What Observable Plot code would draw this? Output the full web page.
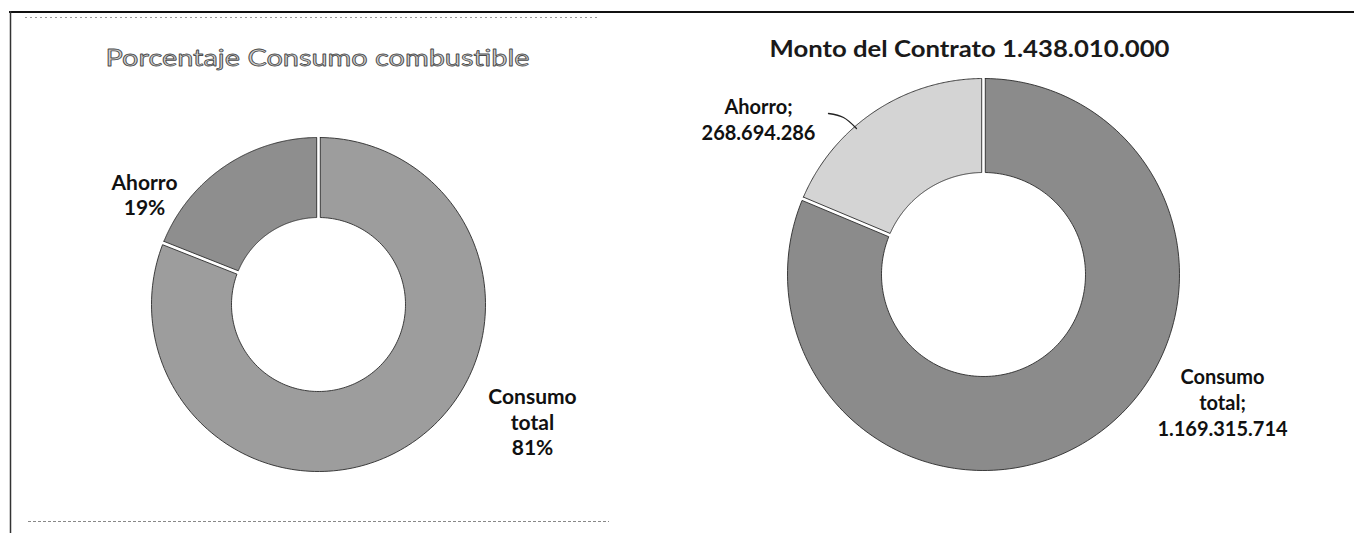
<!DOCTYPE html>
<html><head><meta charset="utf-8">
<script src="https://cdn.jsdelivr.net/npm/d3@7"></script>
<script src="https://cdn.jsdelivr.net/npm/@observablehq/plot@0.6"></script>
<style>body{margin:0;background:#fff;overflow:hidden}</style>
</head><body><div id="chart"></div>
<script>
// ---- data ----
const categories = ["Consumo total", "Ahorro"];
const pctValues = [81, 19];
const amountValues = [1169315714, 268694286];
const leftTitle = "Porcentaje Consumo combustible";
const rightTitlePrefix = "Monto del Contrato";

// ---- formatting ----
const es = d3.formatLocale({decimal: ",", thousands: ".", grouping: [3], currency: ["", ""]});
const fmt = es.format(",d");
const rightTitle = rightTitlePrefix + " " + fmt(d3.sum(amountValues));

// ---- layout ----
const W = 1354, H = 533;
const donuts = [
  {cx: 318, cy: 304, R: 167, r: 87, values: pctValues,
   colors: ["#9d9d9d", "#8e8e8e"],
   text: (c, v) => (c === "Ahorro" ? "Ahorro" : "Consumo\ntotal") + "\n" + v + "%",
   offsets: [[214, 117], [-174, -110]]},
  {cx: 983, cy: 274, R: 196, r: 102, values: amountValues,
   colors: ["#8b8b8b", "#d4d4d4"],
   text: (c, v) => (c === "Ahorro" ? "Ahorro;" : "Consumo\ntotal;") + "\n" + fmt(v),
   offsets: [[239, 127], [-225, -156]]}
];
const gap = 1.8;

const marks = [];
const labelRows = [];
donuts.forEach((dn, di) => {
  const arcs = d3.pie().sort(null).startAngle(0).endAngle(2 * Math.PI)(dn.values);
  arcs.forEach((a, i) => {
    const pts = [];
    const oa = Math.asin(gap / dn.R), ia = Math.asin(gap / dn.r);
    const N = 180;
    for (let k = 0; k <= N; k++) {
      const t = a.startAngle + oa + (a.endAngle - a.startAngle - 2 * oa) * k / N;
      pts.push({x: dn.cx + dn.R * Math.sin(t), y: dn.cy - dn.R * Math.cos(t)});
    }
    for (let k = N; k >= 0; k--) {
      const t = a.startAngle + ia + (a.endAngle - a.startAngle - 2 * ia) * k / N;
      pts.push({x: dn.cx + dn.r * Math.sin(t), y: dn.cy - dn.r * Math.cos(t)});
    }
    pts.push(pts[0]);
    marks.push(Plot.line(pts, {x: "x", y: "y", fill: dn.colors[i], stroke: "#2b2b2b", strokeWidth: 0.9}));
    labelRows.push({x: dn.cx + dn.offsets[i][0], y: dn.cy + dn.offsets[i][1],
      label: dn.text(categories[i], dn.values[i]), di});
  });
});

// leader line for right Ahorro label
const rc = donuts[1];
const leader = [[-155, -161], [-140, -157], [-127, -146]].map(([dx, dy]) => ({x: rc.cx + dx, y: rc.cy + dy}));

const svg = Plot.plot({
  width: W, height: H, margin: 0,
  x: {type: "identity", axis: null},
  y: {type: "identity", axis: null},
  style: {background: "#fff"},
  marks: [
    // page frame
    Plot.ruleY([11.5], {x1: 9, x2: W, stroke: "#111", strokeWidth: 2}),
    Plot.ruleX([10], {y1: 11, y2: H, stroke: "#333", strokeWidth: 1.5}),
    Plot.ruleY([17], {x1: 25, x2: 600, stroke: "#999", strokeWidth: 1, strokeDasharray: "2,3"}),
    Plot.ruleY([521], {x1: 28, x2: 609, stroke: "#888", strokeWidth: 1.2, strokeDasharray: "3,2"}),
    ...marks,
    Plot.line(leader, {x: "x", y: "y", stroke: "#222", strokeWidth: 1.3, curve: "catmull-rom"}),
    Plot.text(labelRows.filter(d => d.di === 0), {x: "x", y: "y", text: "label", fontSize: 21, lineHeight: 1.2,
      fontWeight: "bold", fontFamily: "Lato", fill: "#111", lineAnchor: "middle"}),
    Plot.text(labelRows.filter(d => d.di === 1), {x: "x", y: "y", text: "label", fontSize: 20, lineHeight: 1.3,
      fontWeight: "bold", fontFamily: "Lato", fill: "#111", lineAnchor: "middle"}),
    Plot.text([leftTitle], {x: () => 317, y: () => 58.5, text: d => d, fontSize: 23, fontFamily: "Lato",
      fill: "#d2d2d2", stroke: "#4a4a4a", strokeWidth: 0.8, paintOrder: "fill", lineAnchor: "middle"}),
    Plot.text([rightTitle], {x: () => 969, y: () => 49, text: d => d, fontSize: 22, fontWeight: "bold",
      fontFamily: "Lato", fill: "#1a1a1a", lineAnchor: "middle"})
  ]
});

d3.select(svg).selectAll("text").each(function() {
  const t = this.textContent;
  if (t === leftTitle) { this.setAttribute("textLength", 424); this.setAttribute("lengthAdjust", "spacingAndGlyphs"); }
  if (t === rightTitle) { this.setAttribute("textLength", 400); this.setAttribute("lengthAdjust", "spacingAndGlyphs"); }
});
document.getElementById("chart").appendChild(svg);
</script>
</body></html>
